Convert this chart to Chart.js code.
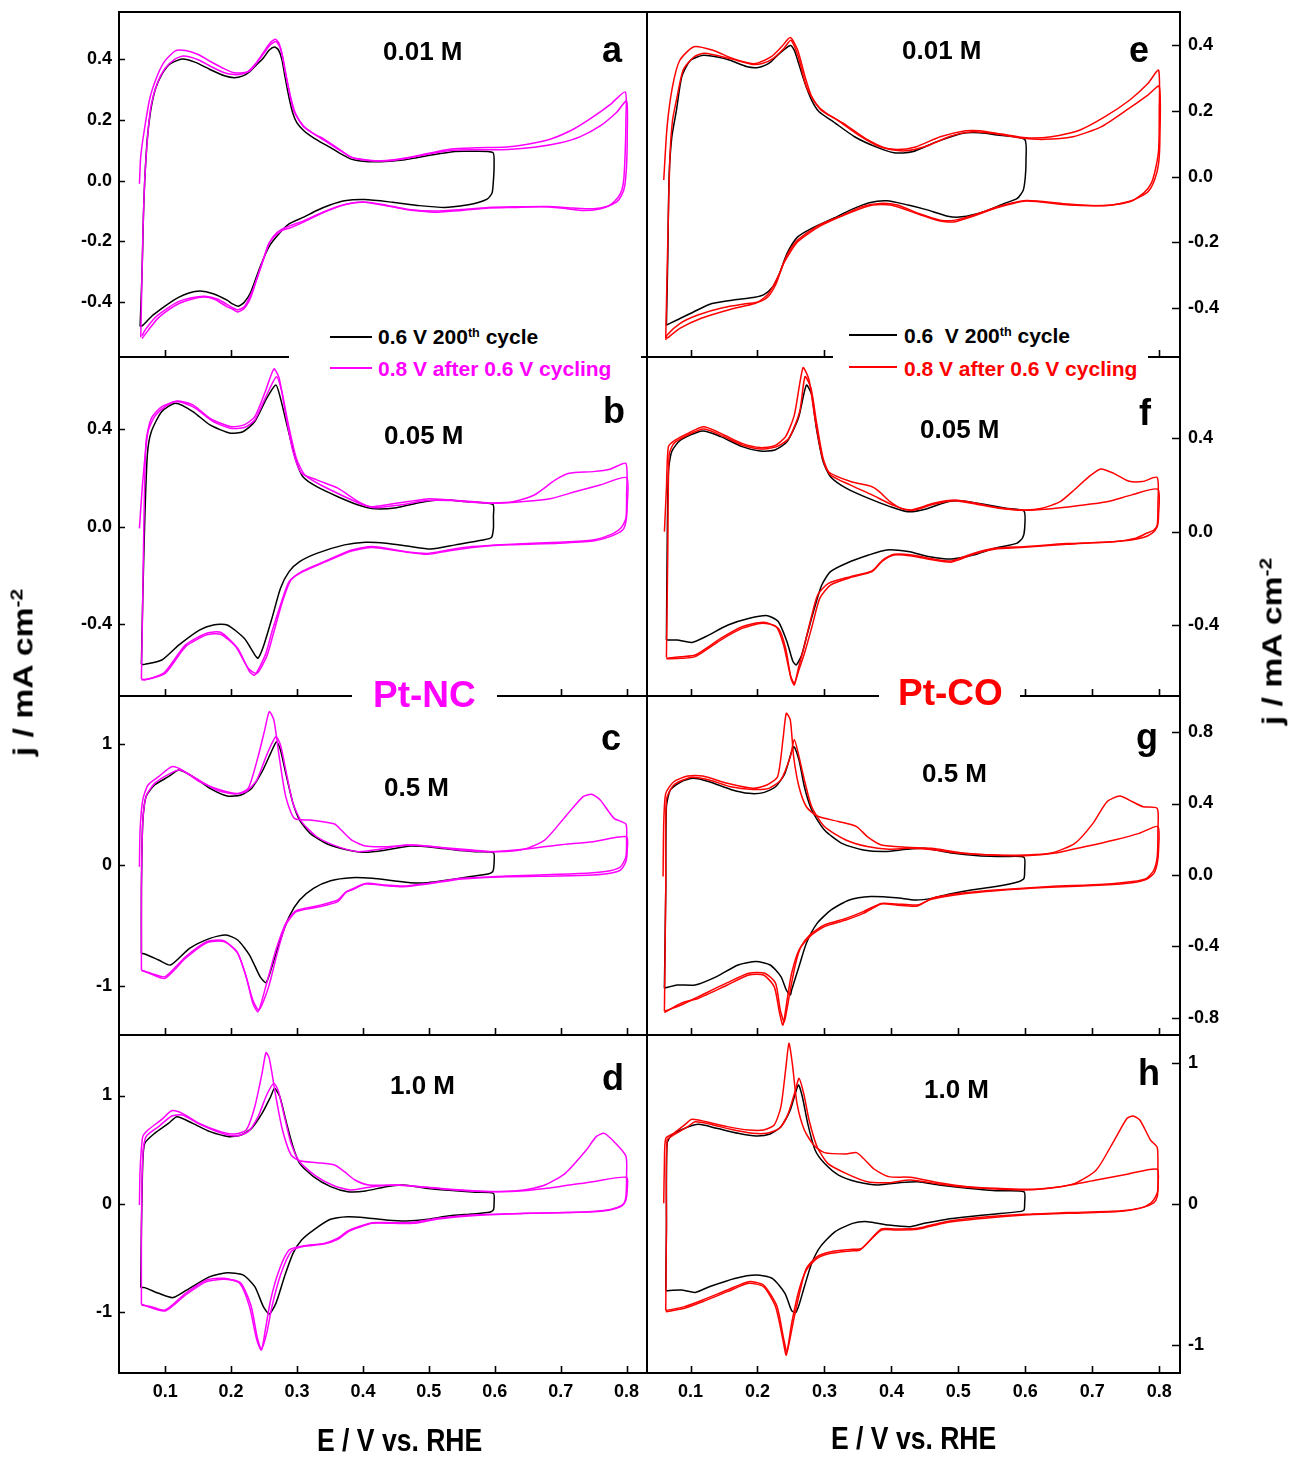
<!DOCTYPE html>
<html><head><meta charset="utf-8">
<script src="https://cdn.jsdelivr.net/npm/chart.js@4.4.1/dist/chart.umd.min.js"></script>
<style>
html,body{margin:0;padding:0;background:#fff}
body{width:1292px;height:1458px;position:relative;overflow:hidden;font-family:'Liberation Sans',Arial,sans-serif}
canvas{position:absolute;display:block}
.t{position:absolute;font-weight:bold;white-space:nowrap;line-height:1;z-index:5}
.wb{position:absolute;background:#fff;z-index:4}
.lg{position:absolute;height:2px;z-index:5}
.sp{font-size:60%;position:relative;top:-0.6em}
</style></head><body>
<script>
// ---------- tick values / labels ----------
const xTicks = [0.1,0.2,0.3,0.4,0.5,0.6,0.7,0.8];
const xTickLabels = ['0.1','0.2','0.3','0.4','0.5','0.6','0.7','0.8'];
const yTicksSmall = [0.4,0.2,0,-0.2,-0.4];
const yLabelsSmall = ['0.4','0.2','0.0','-0.2','-0.4'];
const yTicksMid = [0.4,0,-0.4];
const yLabelsMid = ['0.4','0.0','-0.4'];
const yTicksOne = [1,0,-1];
const yLabelsOne = ['1','0','-1'];
const yTicksG = [0.8,0.4,0,-0.4,-0.8];
const yLabelsG = ['0.8','0.4','0.0','-0.4','-0.8'];

// ---------- series: [E (V vs RHE), j (mA cm-2)] ----------
const aBlack = [[0.062,-0.48],[0.065,-0.3],[0.067,-0.12],[0.069,0.0],[0.073,0.14],[0.078,0.23],[0.085,0.30],[0.095,0.35],[0.108,0.385],[0.126,0.40],[0.145,0.39],[0.168,0.366],[0.19,0.345],[0.205,0.339],[0.218,0.345],[0.228,0.358],[0.238,0.38],[0.249,0.404],[0.258,0.43],[0.266,0.44],[0.272,0.43],[0.277,0.40],[0.282,0.34],[0.288,0.273],[0.294,0.22],[0.30,0.19],[0.31,0.165],[0.32,0.148],[0.335,0.128],[0.351,0.109],[0.365,0.09],[0.382,0.071],[0.40,0.064],[0.419,0.062],[0.44,0.064],[0.461,0.068],[0.48,0.075],[0.497,0.082],[0.52,0.09],[0.539,0.096],[0.56,0.097],[0.597,0.093],[0.599,0.05],[0.598,0.0],[0.596,-0.04],[0.589,-0.06],[0.575,-0.072],[0.56,-0.079],[0.524,-0.088],[0.486,-0.082],[0.445,-0.071],[0.403,-0.062],[0.372,-0.066],[0.35,-0.08],[0.33,-0.098],[0.31,-0.12],[0.288,-0.142],[0.273,-0.174],[0.257,-0.219],[0.244,-0.284],[0.23,-0.366],[0.22,-0.40],[0.211,-0.413],[0.202,-0.405],[0.194,-0.393],[0.173,-0.372],[0.153,-0.363],[0.135,-0.37],[0.121,-0.383],[0.108,-0.40],[0.095,-0.42],[0.08,-0.445],[0.066,-0.476],[0.062,-0.48]];
const aMag1 = [[0.061,-0.01],[0.063,0.08],[0.069,0.175],[0.077,0.273],[0.089,0.35],[0.10,0.395],[0.116,0.428],[0.131,0.428],[0.15,0.415],[0.168,0.393],[0.19,0.368],[0.205,0.355],[0.218,0.355],[0.226,0.36],[0.237,0.385],[0.247,0.415],[0.258,0.45],[0.267,0.465],[0.272,0.455],[0.277,0.42],[0.282,0.36],[0.288,0.295],[0.295,0.23],[0.309,0.18],[0.325,0.155],[0.341,0.137],[0.36,0.11],[0.382,0.077],[0.40,0.07],[0.424,0.066],[0.45,0.07],[0.471,0.077],[0.50,0.09],[0.534,0.104],[0.57,0.108],[0.618,0.111],[0.65,0.12],[0.685,0.137],[0.72,0.17],[0.748,0.208],[0.775,0.25],[0.798,0.292],[0.799,0.2],[0.798,0.1],[0.796,0.01],[0.793,-0.03],[0.787,-0.055],[0.775,-0.08],[0.759,-0.093],[0.732,-0.098],[0.70,-0.09],[0.67,-0.086],[0.63,-0.088],[0.591,-0.09],[0.55,-0.098],[0.513,-0.104],[0.485,-0.10],[0.461,-0.093],[0.43,-0.08],[0.403,-0.071],[0.38,-0.075],[0.361,-0.087],[0.335,-0.11],[0.309,-0.137],[0.29,-0.155],[0.277,-0.164],[0.265,-0.185],[0.257,-0.208],[0.247,-0.273],[0.238,-0.33],[0.23,-0.383],[0.22,-0.42],[0.21,-0.432],[0.20,-0.42],[0.194,-0.415],[0.175,-0.39],[0.158,-0.383],[0.14,-0.39],[0.121,-0.404],[0.105,-0.425],[0.089,-0.453],[0.075,-0.49],[0.065,-0.519]];
const aMag2 = [[0.063,-0.515],[0.066,-0.2],[0.069,0.0],[0.074,0.16],[0.079,0.25],[0.088,0.32],[0.10,0.37],[0.115,0.40],[0.128,0.41],[0.15,0.398],[0.17,0.375],[0.19,0.355],[0.205,0.349],[0.218,0.352],[0.228,0.36],[0.24,0.39],[0.25,0.42],[0.26,0.448],[0.268,0.458],[0.274,0.44],[0.279,0.40],[0.285,0.33],[0.291,0.27],[0.298,0.22],[0.31,0.18],[0.325,0.155],[0.345,0.128],[0.365,0.10],[0.385,0.075],[0.41,0.066],[0.44,0.066],[0.47,0.075],[0.50,0.088],[0.535,0.10],[0.57,0.102],[0.62,0.103],[0.66,0.11],[0.70,0.125],[0.73,0.145],[0.76,0.18],[0.785,0.225],[0.80,0.262],[0.801,0.15],[0.80,0.05],[0.797,-0.02],[0.792,-0.05],[0.785,-0.07],[0.77,-0.085],[0.75,-0.092],[0.72,-0.09],[0.68,-0.085],[0.63,-0.086],[0.59,-0.088],[0.55,-0.095],[0.51,-0.10],[0.47,-0.095],[0.43,-0.078],[0.40,-0.07],[0.37,-0.08],[0.34,-0.103],[0.31,-0.132],[0.285,-0.152],[0.27,-0.17],[0.258,-0.205],[0.248,-0.265],[0.238,-0.33],[0.23,-0.375],[0.22,-0.415],[0.21,-0.425],[0.20,-0.415],[0.18,-0.39],[0.16,-0.38],[0.14,-0.385],[0.12,-0.398],[0.10,-0.425],[0.085,-0.45],[0.07,-0.49],[0.065,-0.51]];

const bBlack = [[0.064,-0.566],[0.066,-0.3],[0.069,0.02],[0.073,0.295],[0.079,0.39],[0.095,0.473],[0.116,0.507],[0.142,0.473],[0.168,0.418],[0.199,0.384],[0.218,0.39],[0.236,0.432],[0.254,0.527],[0.268,0.582],[0.275,0.527],[0.286,0.404],[0.299,0.267],[0.309,0.205],[0.33,0.164],[0.362,0.123],[0.393,0.089],[0.419,0.073],[0.451,0.078],[0.487,0.099],[0.519,0.11],[0.555,0.103],[0.597,0.092],[0.598,0.04],[0.598,-0.007],[0.595,-0.045],[0.582,-0.055],[0.54,-0.075],[0.503,-0.092],[0.472,-0.082],[0.435,-0.068],[0.404,-0.064],[0.372,-0.075],[0.33,-0.11],[0.304,-0.144],[0.288,-0.185],[0.275,-0.253],[0.262,-0.377],[0.249,-0.493],[0.241,-0.541],[0.236,-0.527],[0.22,-0.459],[0.194,-0.404],[0.173,-0.404],[0.152,-0.425],[0.121,-0.486],[0.095,-0.548],[0.069,-0.566],[0.064,-0.566]];
const bMag1 = [[0.061,-0.007],[0.066,0.185],[0.074,0.39],[0.084,0.452],[0.10,0.493],[0.118,0.516],[0.142,0.50],[0.168,0.445],[0.199,0.411],[0.22,0.418],[0.236,0.452],[0.252,0.555],[0.265,0.648],[0.273,0.61],[0.283,0.459],[0.294,0.308],[0.307,0.219],[0.33,0.192],[0.362,0.158],[0.393,0.103],[0.414,0.082],[0.451,0.096],[0.498,0.114],[0.529,0.11],[0.566,0.103],[0.597,0.097],[0.629,0.103],[0.66,0.13],[0.692,0.192],[0.713,0.219],[0.749,0.226],[0.775,0.236],[0.799,0.26],[0.80,0.13],[0.799,0.034],[0.791,-0.007],[0.775,-0.034],[0.749,-0.055],[0.697,-0.064],[0.618,-0.073],[0.566,-0.082],[0.529,-0.096],[0.498,-0.11],[0.466,-0.103],[0.414,-0.082],[0.383,-0.096],[0.341,-0.144],[0.309,-0.182],[0.288,-0.226],[0.275,-0.322],[0.262,-0.432],[0.252,-0.527],[0.236,-0.61],[0.228,-0.596],[0.21,-0.50],[0.184,-0.434],[0.163,-0.438],[0.131,-0.486],[0.10,-0.596],[0.079,-0.623],[0.064,-0.63]];
const bMag2 = [[0.064,-0.625],[0.066,-0.3],[0.068,0.05],[0.071,0.349],[0.079,0.445],[0.095,0.493],[0.118,0.514],[0.142,0.493],[0.173,0.432],[0.199,0.404],[0.22,0.407],[0.236,0.438],[0.254,0.541],[0.269,0.616],[0.277,0.555],[0.286,0.432],[0.299,0.281],[0.312,0.212],[0.336,0.171],[0.367,0.13],[0.398,0.092],[0.419,0.078],[0.456,0.089],[0.498,0.107],[0.534,0.107],[0.566,0.10],[0.603,0.096],[0.644,0.103],[0.686,0.116],[0.723,0.144],[0.76,0.171],[0.80,0.201],[0.801,0.089],[0.799,0.021],[0.794,-0.014],[0.775,-0.041],[0.749,-0.059],[0.697,-0.068],[0.618,-0.075],[0.566,-0.086],[0.529,-0.10],[0.498,-0.114],[0.466,-0.105],[0.414,-0.086],[0.383,-0.10],[0.341,-0.147],[0.309,-0.185],[0.291,-0.219],[0.278,-0.308],[0.265,-0.432],[0.254,-0.534],[0.239,-0.603],[0.226,-0.582],[0.207,-0.493],[0.184,-0.442],[0.163,-0.445],[0.131,-0.493],[0.10,-0.603],[0.069,-0.63],[0.064,-0.625]];

const cBlack = [[0.064,-0.731],[0.064,-0.207],[0.066,0.345],[0.071,0.566],[0.084,0.662],[0.105,0.731],[0.121,0.786],[0.142,0.731],[0.168,0.634],[0.194,0.571],[0.215,0.579],[0.231,0.634],[0.247,0.772],[0.26,0.924],[0.269,1.021],[0.275,0.952],[0.283,0.759],[0.294,0.51],[0.304,0.372],[0.32,0.262],[0.346,0.174],[0.377,0.124],[0.404,0.105],[0.435,0.124],[0.472,0.157],[0.508,0.146],[0.54,0.124],[0.571,0.11],[0.598,0.102],[0.599,0.014],[0.597,-0.055],[0.59,-0.074],[0.561,-0.097],[0.529,-0.124],[0.498,-0.146],[0.472,-0.146],[0.446,-0.13],[0.414,-0.11],[0.383,-0.105],[0.351,-0.13],[0.325,-0.193],[0.304,-0.29],[0.288,-0.428],[0.273,-0.648],[0.262,-0.841],[0.253,-0.974],[0.244,-0.924],[0.228,-0.745],[0.21,-0.621],[0.192,-0.579],[0.168,-0.607],[0.137,-0.69],[0.108,-0.828],[0.09,-0.786],[0.069,-0.737],[0.064,-0.731]];
const cMag1 = [[0.061,-0.014],[0.062,0.29],[0.066,0.538],[0.074,0.662],[0.09,0.731],[0.11,0.814],[0.126,0.786],[0.152,0.69],[0.184,0.621],[0.21,0.593],[0.226,0.634],[0.241,0.897],[0.251,1.117],[0.258,1.269],[0.265,1.20],[0.273,0.897],[0.283,0.566],[0.296,0.386],[0.32,0.372],[0.357,0.339],[0.367,0.29],[0.383,0.207],[0.404,0.157],[0.435,0.152],[0.477,0.166],[0.519,0.146],[0.566,0.124],[0.603,0.11],[0.644,0.13],[0.676,0.207],[0.707,0.40],[0.734,0.566],[0.747,0.585],[0.76,0.538],[0.781,0.386],[0.799,0.339],[0.80,0.207],[0.799,0.069],[0.791,-0.014],[0.775,-0.047],[0.749,-0.063],[0.697,-0.077],[0.618,-0.091],[0.55,-0.11],[0.498,-0.152],[0.461,-0.174],[0.435,-0.166],[0.404,-0.152],[0.383,-0.201],[0.372,-0.234],[0.362,-0.29],[0.33,-0.339],[0.299,-0.378],[0.283,-0.483],[0.268,-0.703],[0.254,-0.979],[0.241,-1.214],[0.233,-1.145],[0.223,-0.924],[0.21,-0.731],[0.189,-0.626],[0.163,-0.634],[0.131,-0.759],[0.10,-0.924],[0.079,-0.897],[0.064,-0.874]];
const cMag2 = [[0.064,-0.868],[0.064,-0.207],[0.066,0.345],[0.071,0.566],[0.084,0.676],[0.108,0.759],[0.123,0.786],[0.147,0.717],[0.178,0.621],[0.205,0.588],[0.223,0.607],[0.239,0.703],[0.254,0.91],[0.268,1.062],[0.275,0.993],[0.284,0.759],[0.294,0.51],[0.307,0.359],[0.33,0.234],[0.362,0.152],[0.393,0.11],[0.425,0.13],[0.466,0.166],[0.508,0.152],[0.545,0.124],[0.592,0.11],[0.644,0.13],[0.697,0.166],[0.749,0.193],[0.80,0.234],[0.801,0.124],[0.799,0.028],[0.791,-0.041],[0.775,-0.069],[0.749,-0.083],[0.697,-0.091],[0.618,-0.097],[0.55,-0.116],[0.498,-0.157],[0.461,-0.179],[0.435,-0.171],[0.404,-0.157],[0.383,-0.207],[0.375,-0.221],[0.362,-0.303],[0.33,-0.35],[0.299,-0.386],[0.283,-0.497],[0.27,-0.731],[0.257,-1.007],[0.242,-1.20],[0.233,-1.117],[0.222,-0.91],[0.209,-0.717],[0.189,-0.634],[0.163,-0.643],[0.131,-0.772],[0.10,-0.938],[0.079,-0.903],[0.064,-0.868]];

const dBlack = [[0.063,-0.771],[0.064,-0.24],[0.066,0.375],[0.069,0.559],[0.084,0.651],[0.105,0.743],[0.118,0.805],[0.142,0.743],[0.168,0.667],[0.197,0.621],[0.215,0.636],[0.231,0.697],[0.247,0.836],[0.26,0.989],[0.266,1.066],[0.274,0.989],[0.283,0.774],[0.294,0.528],[0.304,0.375],[0.325,0.252],[0.351,0.16],[0.377,0.114],[0.404,0.12],[0.435,0.16],[0.461,0.175],[0.498,0.144],[0.54,0.123],[0.571,0.108],[0.598,0.098],[0.599,0.006],[0.598,-0.055],[0.592,-0.077],[0.566,-0.092],[0.529,-0.111],[0.498,-0.141],[0.466,-0.157],[0.435,-0.147],[0.404,-0.126],[0.377,-0.117],[0.351,-0.141],[0.325,-0.24],[0.307,-0.332],[0.294,-0.455],[0.281,-0.67],[0.268,-0.916],[0.258,-1.014],[0.249,-0.946],[0.236,-0.762],[0.218,-0.654],[0.194,-0.633],[0.168,-0.67],[0.137,-0.777],[0.112,-0.863],[0.09,-0.823],[0.069,-0.771],[0.063,-0.771]];
const dMag1 = [[0.061,-0.009],[0.062,0.313],[0.066,0.621],[0.074,0.682],[0.095,0.78],[0.11,0.86],[0.126,0.836],[0.152,0.743],[0.184,0.667],[0.205,0.645],[0.223,0.682],[0.236,0.897],[0.247,1.204],[0.253,1.395],[0.258,1.343],[0.268,0.989],[0.278,0.682],[0.291,0.452],[0.304,0.399],[0.33,0.381],[0.357,0.359],[0.372,0.298],[0.388,0.221],[0.409,0.175],[0.446,0.175],[0.487,0.16],[0.54,0.129],[0.592,0.114],[0.644,0.129],[0.676,0.175],[0.707,0.283],[0.739,0.498],[0.754,0.621],[0.766,0.651],[0.781,0.574],[0.799,0.442],[0.80,0.252],[0.799,0.068],[0.796,0.006],[0.786,-0.031],[0.765,-0.061],[0.723,-0.077],[0.644,-0.086],[0.566,-0.101],[0.514,-0.132],[0.477,-0.169],[0.446,-0.172],[0.414,-0.172],[0.393,-0.209],[0.377,-0.249],[0.362,-0.316],[0.341,-0.363],[0.309,-0.387],[0.288,-0.424],[0.273,-0.608],[0.26,-0.885],[0.252,-1.161],[0.246,-1.346],[0.239,-1.253],[0.228,-0.946],[0.213,-0.731],[0.189,-0.685],[0.163,-0.70],[0.131,-0.823],[0.10,-0.977],[0.079,-0.946],[0.064,-0.931]];
const dMag2 = [[0.064,-0.925],[0.064,-0.24],[0.066,0.436],[0.071,0.621],[0.09,0.713],[0.11,0.811],[0.126,0.82],[0.152,0.737],[0.184,0.657],[0.207,0.627],[0.226,0.667],[0.241,0.805],[0.254,1.005],[0.265,1.112],[0.272,1.035],[0.281,0.805],[0.291,0.559],[0.304,0.39],[0.33,0.252],[0.357,0.166],[0.383,0.129],[0.414,0.16],[0.451,0.175],[0.498,0.154],[0.55,0.129],[0.603,0.114],[0.644,0.123],[0.697,0.16],[0.749,0.206],[0.80,0.246],[0.801,0.129],[0.799,0.037],[0.793,-0.018],[0.775,-0.055],[0.749,-0.071],[0.697,-0.08],[0.618,-0.092],[0.566,-0.108],[0.514,-0.138],[0.477,-0.178],[0.446,-0.178],[0.414,-0.178],[0.393,-0.218],[0.377,-0.258],[0.362,-0.326],[0.341,-0.369],[0.309,-0.393],[0.291,-0.439],[0.275,-0.654],[0.262,-0.946],[0.254,-1.192],[0.246,-1.339],[0.24,-1.238],[0.23,-0.931],[0.214,-0.725],[0.189,-0.694],[0.163,-0.716],[0.131,-0.839],[0.10,-0.986],[0.064,-0.925]];

const eBlack = [[0.064,-0.452],[0.066,-0.25],[0.068,0.0],[0.072,0.12],[0.079,0.203],[0.087,0.305],[0.10,0.355],[0.119,0.37],[0.14,0.365],[0.159,0.355],[0.185,0.335],[0.201,0.333],[0.212,0.34],[0.22,0.35],[0.233,0.376],[0.249,0.40],[0.255,0.385],[0.26,0.355],[0.271,0.284],[0.281,0.233],[0.292,0.198],[0.313,0.168],[0.345,0.122],[0.377,0.091],[0.404,0.073],[0.431,0.076],[0.468,0.107],[0.505,0.132],[0.532,0.134],[0.559,0.127],[0.599,0.114],[0.601,0.05],[0.60,0.0],[0.597,-0.04],[0.588,-0.066],[0.569,-0.081],[0.537,-0.107],[0.505,-0.122],[0.484,-0.12],[0.452,-0.10],[0.425,-0.086],[0.393,-0.073],[0.367,-0.079],[0.34,-0.10],[0.313,-0.127],[0.281,-0.157],[0.26,-0.183],[0.244,-0.234],[0.233,-0.294],[0.223,-0.335],[0.209,-0.36],[0.196,-0.367],[0.169,-0.374],[0.132,-0.386],[0.105,-0.411],[0.079,-0.437],[0.064,-0.452]];
const eRed1 = [[0.06,-0.01],[0.065,0.152],[0.073,0.274],[0.084,0.355],[0.105,0.396],[0.132,0.386],[0.164,0.36],[0.191,0.345],[0.201,0.347],[0.22,0.365],[0.236,0.396],[0.249,0.424],[0.26,0.386],[0.271,0.305],[0.281,0.244],[0.295,0.203],[0.319,0.173],[0.351,0.127],[0.383,0.091],[0.409,0.083],[0.436,0.091],[0.473,0.122],[0.511,0.14],[0.532,0.14],[0.564,0.13],[0.601,0.119],[0.639,0.122],[0.681,0.142],[0.719,0.183],[0.756,0.234],[0.783,0.284],[0.799,0.325],[0.80,0.2],[0.799,0.08],[0.794,0.02],[0.788,-0.02],[0.777,-0.049],[0.756,-0.076],[0.719,-0.088],[0.665,-0.083],[0.601,-0.072],[0.559,-0.091],[0.527,-0.114],[0.495,-0.132],[0.473,-0.132],[0.441,-0.112],[0.409,-0.086],[0.383,-0.081],[0.356,-0.091],[0.324,-0.12],[0.292,-0.147],[0.26,-0.193],[0.244,-0.239],[0.233,-0.294],[0.217,-0.355],[0.201,-0.381],[0.185,-0.386],[0.148,-0.399],[0.111,-0.421],[0.084,-0.447],[0.065,-0.482],[0.063,-0.497]];
const eRed2 = [[0.063,-0.492],[0.066,-0.2],[0.069,0.05],[0.073,0.17],[0.079,0.234],[0.089,0.325],[0.105,0.365],[0.121,0.376],[0.159,0.36],[0.191,0.343],[0.207,0.345],[0.223,0.36],[0.239,0.39],[0.25,0.416],[0.261,0.365],[0.273,0.274],[0.287,0.223],[0.303,0.193],[0.329,0.162],[0.361,0.117],[0.393,0.086],[0.42,0.079],[0.452,0.093],[0.489,0.124],[0.521,0.137],[0.553,0.132],[0.591,0.119],[0.628,0.114],[0.671,0.122],[0.713,0.152],[0.751,0.203],[0.783,0.249],[0.80,0.276],[0.801,0.12],[0.799,0.04],[0.793,-0.01],[0.783,-0.046],[0.761,-0.071],[0.729,-0.086],[0.665,-0.086],[0.601,-0.074],[0.559,-0.094],[0.495,-0.137],[0.473,-0.135],[0.441,-0.114],[0.399,-0.086],[0.372,-0.086],[0.335,-0.112],[0.292,-0.152],[0.26,-0.198],[0.239,-0.264],[0.228,-0.325],[0.215,-0.367],[0.196,-0.386],[0.159,-0.404],[0.116,-0.431],[0.084,-0.462],[0.065,-0.492]];

const fBlack = [[0.064,-0.463],[0.065,-0.1],[0.067,0.256],[0.072,0.342],[0.085,0.391],[0.118,0.43],[0.145,0.406],[0.177,0.363],[0.204,0.344],[0.226,0.349],[0.244,0.384],[0.261,0.484],[0.273,0.626],[0.281,0.584],[0.288,0.441],[0.298,0.299],[0.309,0.235],[0.333,0.185],[0.366,0.142],[0.398,0.107],[0.425,0.085],[0.452,0.097],[0.484,0.128],[0.506,0.131],[0.538,0.117],[0.571,0.10],[0.598,0.088],[0.599,0.014],[0.596,-0.026],[0.587,-0.05],[0.554,-0.071],[0.522,-0.10],[0.49,-0.117],[0.457,-0.107],[0.425,-0.085],[0.393,-0.078],[0.366,-0.10],[0.333,-0.135],[0.309,-0.171],[0.296,-0.228],[0.285,-0.327],[0.274,-0.441],[0.266,-0.527],[0.258,-0.569],[0.253,-0.555],[0.244,-0.47],[0.231,-0.384],[0.215,-0.359],[0.188,-0.37],[0.156,-0.399],[0.123,-0.448],[0.102,-0.473],[0.08,-0.463],[0.064,-0.463]];
const fRed1 = [[0.061,0.0],[0.064,0.185],[0.067,0.363],[0.077,0.391],[0.096,0.42],[0.12,0.448],[0.15,0.413],[0.177,0.377],[0.204,0.359],[0.226,0.367],[0.242,0.406],[0.255,0.498],[0.268,0.70],[0.277,0.648],[0.285,0.498],[0.296,0.327],[0.306,0.256],[0.339,0.214],[0.371,0.192],[0.382,0.171],[0.398,0.128],[0.414,0.10],[0.43,0.093],[0.463,0.121],[0.495,0.135],[0.527,0.121],[0.56,0.102],[0.598,0.093],[0.625,0.10],[0.652,0.128],[0.673,0.178],[0.695,0.235],[0.713,0.268],[0.732,0.249],[0.754,0.216],[0.775,0.214],[0.797,0.231],[0.798,0.114],[0.797,0.028],[0.792,0.007],[0.781,-0.007],[0.765,-0.028],[0.732,-0.043],[0.662,-0.051],[0.598,-0.064],[0.554,-0.071],[0.522,-0.093],[0.49,-0.125],[0.463,-0.117],[0.43,-0.10],[0.404,-0.097],[0.387,-0.121],[0.371,-0.168],[0.339,-0.192],[0.306,-0.221],[0.29,-0.27],[0.28,-0.37],[0.269,-0.498],[0.261,-0.584],[0.255,-0.655],[0.25,-0.626],[0.242,-0.498],[0.231,-0.413],[0.209,-0.387],[0.177,-0.406],[0.145,-0.456],[0.107,-0.527],[0.085,-0.534],[0.064,-0.541]];
const fRed2 = [[0.064,-0.538],[0.066,-0.1],[0.068,0.327],[0.075,0.377],[0.096,0.413],[0.12,0.438],[0.15,0.406],[0.177,0.37],[0.204,0.353],[0.228,0.362],[0.247,0.399],[0.263,0.512],[0.271,0.662],[0.28,0.612],[0.288,0.47],[0.298,0.313],[0.309,0.242],[0.339,0.199],[0.371,0.157],[0.404,0.111],[0.43,0.09],[0.463,0.117],[0.495,0.132],[0.527,0.117],[0.56,0.10],[0.598,0.091],[0.635,0.097],[0.678,0.111],[0.722,0.128],[0.759,0.157],[0.798,0.181],[0.799,0.071],[0.797,0.021],[0.789,-0.007],[0.775,-0.026],[0.743,-0.04],[0.662,-0.054],[0.598,-0.067],[0.554,-0.075],[0.522,-0.097],[0.49,-0.13],[0.463,-0.121],[0.43,-0.104],[0.404,-0.10],[0.387,-0.125],[0.371,-0.171],[0.339,-0.196],[0.309,-0.228],[0.293,-0.285],[0.282,-0.399],[0.271,-0.512],[0.261,-0.598],[0.255,-0.648],[0.249,-0.612],[0.239,-0.484],[0.228,-0.406],[0.207,-0.391],[0.177,-0.413],[0.145,-0.463],[0.107,-0.534],[0.085,-0.541],[0.064,-0.543]];

const gBlack = [[0.061,-0.634],[0.063,-0.084],[0.064,0.382],[0.07,0.476],[0.086,0.522],[0.104,0.541],[0.128,0.522],[0.16,0.479],[0.187,0.457],[0.209,0.461],[0.227,0.494],[0.241,0.569],[0.254,0.718],[0.262,0.644],[0.27,0.494],[0.281,0.364],[0.30,0.252],[0.326,0.177],[0.358,0.14],[0.391,0.131],[0.423,0.144],[0.449,0.149],[0.487,0.125],[0.53,0.108],[0.567,0.103],[0.598,0.099],[0.599,0.028],[0.598,-0.019],[0.591,-0.037],[0.556,-0.065],[0.519,-0.084],[0.487,-0.106],[0.46,-0.131],[0.436,-0.14],[0.407,-0.127],[0.369,-0.121],[0.337,-0.14],[0.31,-0.196],[0.289,-0.271],[0.273,-0.382],[0.262,-0.513],[0.251,-0.644],[0.249,-0.672],[0.243,-0.644],[0.235,-0.569],[0.219,-0.504],[0.198,-0.485],[0.171,-0.504],[0.139,-0.569],[0.107,-0.616],[0.08,-0.616],[0.061,-0.634]];
const gRed1 = [[0.059,-0.009],[0.06,0.289],[0.063,0.457],[0.075,0.522],[0.096,0.554],[0.118,0.554],[0.155,0.513],[0.193,0.485],[0.214,0.504],[0.23,0.55],[0.238,0.756],[0.243,0.905],[0.249,0.868],[0.254,0.662],[0.262,0.494],[0.273,0.382],[0.289,0.33],[0.321,0.299],[0.348,0.271],[0.364,0.215],[0.385,0.168],[0.423,0.155],[0.46,0.149],[0.503,0.125],[0.556,0.112],[0.599,0.112],[0.637,0.121],[0.674,0.177],[0.701,0.289],[0.722,0.41],[0.741,0.442],[0.76,0.41],[0.776,0.382],[0.797,0.373],[0.798,0.252],[0.797,0.103],[0.792,0.028],[0.781,-0.019],[0.76,-0.037],[0.717,-0.052],[0.637,-0.065],[0.556,-0.084],[0.503,-0.103],[0.46,-0.131],[0.439,-0.174],[0.407,-0.168],[0.385,-0.162],[0.358,-0.215],[0.332,-0.252],[0.30,-0.289],[0.278,-0.345],[0.262,-0.42],[0.251,-0.55],[0.245,-0.681],[0.238,-0.84],[0.233,-0.774],[0.225,-0.625],[0.209,-0.56],[0.187,-0.56],[0.155,-0.616],[0.112,-0.69],[0.086,-0.718],[0.061,-0.771]];
const gRed2 = [[0.061,-0.763],[0.063,-0.08],[0.064,0.42],[0.075,0.504],[0.102,0.547],[0.128,0.532],[0.16,0.494],[0.193,0.479],[0.217,0.485],[0.235,0.532],[0.249,0.662],[0.255,0.759],[0.262,0.662],[0.27,0.532],[0.281,0.382],[0.30,0.271],[0.332,0.196],[0.364,0.159],[0.396,0.144],[0.428,0.149],[0.465,0.14],[0.503,0.121],[0.556,0.11],[0.599,0.108],[0.642,0.121],[0.69,0.159],[0.733,0.196],[0.77,0.233],[0.798,0.271],[0.799,0.14],[0.797,0.065],[0.792,0.009],[0.781,-0.024],[0.76,-0.043],[0.717,-0.056],[0.637,-0.069],[0.556,-0.088],[0.503,-0.108],[0.46,-0.136],[0.439,-0.168],[0.407,-0.162],[0.385,-0.159],[0.358,-0.205],[0.332,-0.243],[0.30,-0.28],[0.278,-0.336],[0.265,-0.401],[0.257,-0.494],[0.249,-0.644],[0.24,-0.821],[0.234,-0.756],[0.227,-0.606],[0.211,-0.55],[0.187,-0.55],[0.155,-0.603],[0.112,-0.681],[0.086,-0.728],[0.061,-0.763]];

const hBlack = [[0.063,-0.614],[0.064,-0.184],[0.065,0.43],[0.072,0.489],[0.091,0.536],[0.112,0.564],[0.139,0.536],[0.171,0.501],[0.198,0.482],[0.219,0.496],[0.235,0.548],[0.249,0.666],[0.261,0.843],[0.267,0.76],[0.275,0.571],[0.286,0.383],[0.30,0.288],[0.321,0.205],[0.348,0.158],[0.38,0.135],[0.412,0.151],[0.439,0.158],[0.471,0.135],[0.514,0.111],[0.556,0.094],[0.598,0.087],[0.599,0.005],[0.598,-0.043],[0.591,-0.054],[0.556,-0.071],[0.514,-0.09],[0.481,-0.109],[0.449,-0.137],[0.428,-0.161],[0.396,-0.149],[0.364,-0.125],[0.342,-0.137],[0.316,-0.196],[0.294,-0.302],[0.281,-0.42],[0.27,-0.586],[0.262,-0.716],[0.257,-0.77],[0.251,-0.756],[0.241,-0.633],[0.222,-0.527],[0.198,-0.503],[0.166,-0.527],[0.128,-0.586],[0.107,-0.626],[0.086,-0.609],[0.063,-0.614]];
const hRed1 = [[0.06,0.005],[0.061,0.288],[0.063,0.465],[0.075,0.501],[0.091,0.56],[0.102,0.60],[0.123,0.583],[0.155,0.548],[0.187,0.524],[0.209,0.524],[0.225,0.56],[0.235,0.69],[0.242,0.949],[0.247,1.138],[0.252,0.996],[0.259,0.713],[0.27,0.524],[0.284,0.418],[0.30,0.364],[0.332,0.354],[0.348,0.364],[0.358,0.324],[0.374,0.248],[0.396,0.194],[0.428,0.189],[0.471,0.151],[0.514,0.123],[0.556,0.111],[0.599,0.104],[0.637,0.113],[0.674,0.146],[0.706,0.241],[0.733,0.453],[0.752,0.607],[0.761,0.623],[0.771,0.595],[0.787,0.453],[0.797,0.401],[0.798,0.241],[0.798,0.099],[0.794,0.047],[0.787,0.005],[0.771,-0.031],[0.738,-0.054],[0.663,-0.066],[0.599,-0.078],[0.535,-0.102],[0.481,-0.132],[0.439,-0.179],[0.407,-0.184],[0.385,-0.184],[0.353,-0.326],[0.342,-0.331],[0.31,-0.349],[0.289,-0.385],[0.273,-0.468],[0.262,-0.609],[0.251,-0.845],[0.243,-1.07],[0.238,-0.963],[0.227,-0.727],[0.209,-0.586],[0.187,-0.562],[0.155,-0.621],[0.118,-0.692],[0.091,-0.739],[0.063,-0.763]];
const hRed2 = [[0.063,-0.755],[0.064,-0.18],[0.065,0.453],[0.075,0.489],[0.096,0.548],[0.107,0.583],[0.128,0.567],[0.16,0.529],[0.193,0.501],[0.214,0.501],[0.233,0.536],[0.246,0.642],[0.257,0.812],[0.262,0.89],[0.269,0.784],[0.277,0.595],[0.289,0.406],[0.305,0.288],[0.332,0.217],[0.364,0.158],[0.396,0.151],[0.428,0.17],[0.471,0.142],[0.514,0.118],[0.556,0.106],[0.599,0.099],[0.653,0.123],[0.706,0.17],[0.754,0.213],[0.797,0.246],[0.798,0.123],[0.797,0.052],[0.792,0.009],[0.776,-0.024],[0.744,-0.047],[0.663,-0.061],[0.599,-0.073],[0.535,-0.094],[0.481,-0.125],[0.439,-0.172],[0.407,-0.177],[0.385,-0.177],[0.356,-0.314],[0.342,-0.321],[0.31,-0.338],[0.289,-0.373],[0.273,-0.456],[0.265,-0.586],[0.254,-0.822],[0.244,-1.046],[0.239,-0.952],[0.229,-0.723],[0.209,-0.574],[0.187,-0.55],[0.155,-0.609],[0.118,-0.68],[0.091,-0.727],[0.063,-0.755]];

// ---------- layout ----------
const MAG = '#ff00ff', RED = '#ff0000';
const FONT = "'Liberation Sans', Arial, Helvetica, sans-serif";
Chart.defaults.font.family = FONT;

const panels = [
  {col:'L', top:12,   bottom:357,  ymin:-0.58,  ymax:0.555, yT:yTicksSmall, yL:yLabelsSmall, k:aBlack, c1:aMag1, c2:aMag2, xl:false},
  {col:'L', top:357,  bottom:696,  ymin:-0.696, ymax:0.697, yT:yTicksMid,   yL:yLabelsMid,   k:bBlack, c1:bMag1, c2:bMag2, xl:false},
  {col:'L', top:696,  bottom:1035, ymin:-1.407, ymax:1.399, yT:yTicksOne,   yL:yLabelsOne,   k:cBlack, c1:cMag1, c2:cMag2, xl:false},
  {col:'L', top:1035, bottom:1373, ymin:-1.558, ymax:1.558, yT:yTicksOne,   yL:yLabelsOne,   k:dBlack, c1:dMag1, c2:dMag2, xl:true},
  {col:'R', top:12,   bottom:357,  ymin:-0.549, ymax:0.502, yT:yTicksSmall, yL:yLabelsSmall, k:eBlack, c1:eRed1, c2:eRed2, xl:false},
  {col:'R', top:357,  bottom:696,  ymin:-0.702, ymax:0.746, yT:yTicksMid,   yL:yLabelsMid,   k:fBlack, c1:fRed1, c2:fRed2, xl:false},
  {col:'R', top:696,  bottom:1035, ymin:-0.896, ymax:1.002, yT:yTicksG,     yL:yLabelsG,     k:gBlack, c1:gRed1, c2:gRed2, xl:false},
  {col:'R', top:1035, bottom:1373, ymin:-1.197, ymax:1.197, yT:yTicksOne,   yL:yLabelsOne,   k:hBlack, c1:hRed1, c2:hRed2, xl:true}
];

const frameTicks = {
  id: 'frameTicks',
  afterDraw(chart, args, opts) {
    const {ctx, chartArea: a, scales} = chart;
    ctx.save();
    ctx.strokeStyle = '#000';
    ctx.lineWidth = 2;
    ctx.strokeRect(a.left, a.top, a.right - a.left, a.bottom - a.top);
    ctx.lineWidth = 1.6;
    ctx.beginPath();
    scales.x.ticks.forEach(t => {
      const x = Math.round(scales.x.getPixelForValue(t.value)) + 0.5;
      ctx.moveTo(x, a.bottom); ctx.lineTo(x, a.bottom - 7);
    });
    scales.y.ticks.forEach(t => {
      const y = Math.round(scales.y.getPixelForValue(t.value)) + 0.5;
      if (opts.side === 'L') { ctx.moveTo(a.left, y); ctx.lineTo(a.left + 6, y); }
      else { ctx.moveTo(a.right, y); ctx.lineTo(a.right - 8, y); }
    });
    ctx.stroke();
    ctx.restore();
  }
};

const toXY = arr => arr.map(p => ({x: p[0], y: p[1]}));
const noPad = s => { s.paddingTop = 0; s.paddingBottom = 0; s.paddingLeft = 0; s.paddingRight = 0; };

function build(p) {
  const L = p.col === 'L';
  const cl = L ? 0 : 634, cw = L ? 660 : 658;
  const left = L ? 119 : 647, right = L ? 647 : 1180;
  const xH = p.xl ? 40 : 0;
  const ct = p.top - 10;
  const ch = (p.bottom - p.top) + 20 + xH;
  const cv = document.createElement('canvas');
  cv.width = cw; cv.height = ch;
  cv.style.left = cl + 'px'; cv.style.top = ct + 'px';
  cv.style.width = cw + 'px'; cv.style.height = ch + 'px';
  document.body.appendChild(cv);
  const yW = L ? left - cl : cl + cw - right;
  const colr = L ? MAG : RED;
  const ds = (d, c, w) => ({data: toXY(d), borderColor: c, borderWidth: w, showLine: true, pointRadius: 0, tension: 0.22, fill: false});
  new Chart(cv, {
    type: 'scatter',
    data: {datasets: [ds(p.c1, colr, 1.5), ds(p.c2, colr, 1.5), ds(p.k, '#000', 1.5)]},
    options: {
      responsive: false, animation: false, devicePixelRatio: 1,
      layout: {padding: {left: L ? 0 : left - cl, right: L ? cl + cw - right : 0, top: 10, bottom: 10}},
      plugins: {legend: {display: false}, tooltip: {enabled: false}, frameTicks: {side: p.col}},
      scales: {
        x: {
          type: 'linear', position: 'bottom', min: L ? 0.030 : 0.035, max: 0.831,
          afterBuildTicks: s => { s.ticks = xTicks.map(v => ({value: v})); },
          afterFit: s => { s.height = xH; noPad(s); },
          grid: {display: false, drawTicks: false}, border: {display: false},
          ticks: {display: p.xl, padding: 8, autoSkip: false, maxRotation: 0, color: '#000',
                  font: {size: 18, weight: 'bold'}, callback: (v, i) => xTickLabels[i]}
        },
        y: {
          type: 'linear', position: L ? 'left' : 'right', min: p.ymin, max: p.ymax,
          afterBuildTicks: s => { s.ticks = p.yT.map(v => ({value: v})); },
          afterFit: s => { s.width = yW; noPad(s); },
          grid: {display: false, drawTicks: false}, border: {display: false},
          ticks: {padding: L ? 7 : 8, autoSkip: false, color: '#000',
                  font: {size: 18, weight: 'bold'}, callback: (v, i) => p.yL[i]}
        }
      }
    },
    plugins: [frameTicks]
  });
}
panels.forEach(build);

// ---------- texts ----------
function addText(html, x, base, fs, color, extra) {
  const d = document.createElement('div');
  d.className = 't';
  d.innerHTML = html;
  d.style.fontSize = fs + 'px';
  d.style.color = color;
  d.style.left = x + 'px';
  d.style.top = (base - 0.8465 * fs) + 'px';
  if (extra) Object.assign(d.style, extra);
  document.body.appendChild(d);
  return d;
}
function box(x, y, w, h) {
  const d = document.createElement('div');
  d.className = 'wb';
  Object.assign(d.style, {left: x + 'px', top: y + 'px', width: w + 'px', height: h + 'px'});
  document.body.appendChild(d);
}
function seg(x, y, w, c) {
  const d = document.createElement('div');
  d.className = 'lg';
  Object.assign(d.style, {left: x + 'px', top: (y - 1) + 'px', width: w + 'px', background: c});
  document.body.appendChild(d);
}

// white patches behind legends / sample names
box(289, 322, 352, 60);
box(833, 322, 315, 60);
box(352, 677, 145, 34);
box(879, 677, 141, 34);

// concentrations
addText('0.01 M', 383, 60, 26, '#000');
addText('0.05 M', 384, 444, 26, '#000');
addText('0.5 M', 384, 796, 26, '#000');
addText('1.0 M', 390, 1094, 26, '#000');
addText('0.01 M', 902, 59, 26, '#000');
addText('0.05 M', 920, 438, 26, '#000');
addText('0.5 M', 922, 782, 26, '#000');
addText('1.0 M', 924, 1098, 26, '#000');

// panel letters
addText('a', 602, 62, 36, '#000');
addText('b', 603, 423, 36, '#000');
addText('c', 601, 750, 36, '#000');
addText('d', 602, 1090, 36, '#000');
addText('e', 1129, 62, 36, '#000');
addText('f', 1139, 425, 36, '#000');
addText('g', 1136, 749, 36, '#000');
addText('h', 1138, 1085, 36, '#000');

// sample names
addText('Pt-NC', 373, 707, 37, MAG);
addText('Pt-CO', 898, 705, 37, RED);

// legends
seg(330, 337, 42, '#000');
seg(330, 368, 42, MAG);
addText('0.6 V 200<span class="sp">th</span> cycle', 378, 344, 21, '#000');
addText('0.8 V after 0.6 V cycling', 378, 376, 21, MAG);
seg(849, 335, 48, '#000');
seg(849, 367, 48, RED);
addText('0.6&nbsp; V 200<span class="sp">th</span> cycle', 904, 343, 21, '#000');
addText('0.8 V after 0.6 V cycling', 904, 376, 21, RED);

// axis titles
function centered(html, cx, cy, fs, transform) {
  const d = document.createElement('div');
  d.className = 't';
  d.innerHTML = html;
  d.style.fontSize = fs + 'px';
  d.style.color = '#000';
  d.style.left = cx + 'px';
  d.style.top = cy + 'px';
  document.body.appendChild(d);
  const w = d.offsetWidth, h = d.offsetHeight;
  d.style.transformOrigin = '50% 50%';
  d.style.left = (cx - w / 2) + 'px';
  d.style.top = (cy - h / 2) + 'px';
  d.style.transform = transform;
  return d;
}
centered('E / V vs. RHE', 399, 1440, 32, 'scaleX(0.83)');
centered('E / V vs. RHE', 913, 1438, 32, 'scaleX(0.83)');
centered('j / mA cm<span class="sp" style="font-size:62%">-2</span>', 24, 672, 27, 'rotate(-90deg) scaleX(1.25)');
centered('j / mA cm<span class="sp" style="font-size:62%">-2</span>', 1273, 641, 27, 'rotate(-90deg) scaleX(1.25)');
</script>
</body></html>
